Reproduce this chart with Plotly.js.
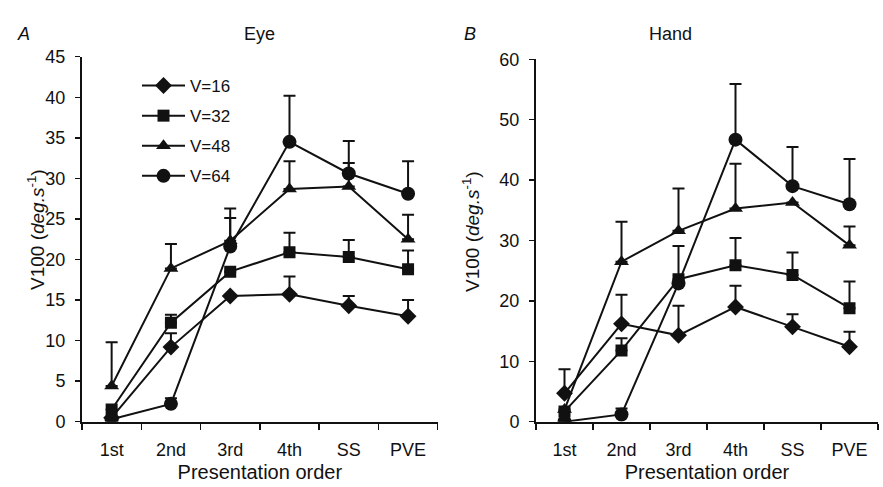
<!DOCTYPE html>
<html>
<head>
<meta charset="utf-8">
<script src="https://cdn.plot.ly/plotly-3.0.1.min.js"></script>
<style>html,body{margin:0;padding:0;background:#fff;}#chart{width:883px;height:487px;}</style>
</head>
<body>
<div id="chart"></div>
<script>
// Categories
const categories = ["1st", "2nd", "3rd", "4th", "SS", "PVE"];
const seriesNames = ["V=16", "V=32", "V=48", "V=64"];

// Panel A: Eye (mean V100, deg/s) and upper error (SE)
const eyeV16 = [0.5, 9.2, 15.5, 15.7, 14.3, 13.0];
const eyeV16Err = [0, 1.7, 0, 2.2, 1.2, 2.0];
const eyeV32 = [1.5, 12.2, 18.5, 20.9, 20.3, 18.8];
const eyeV32Err = [0, 1.0, 0, 2.4, 2.1, 2.3];
const eyeV48 = [4.4, 18.9, 22.3, 28.7, 29.0, 22.5];
const eyeV48Err = [5.4, 3.0, 4.0, 3.4, 2.9, 3.0];
const eyeV64 = [0.3, 2.2, 21.6, 34.5, 30.6, 28.1];
const eyeV64Err = [0, 0.7, 3.5, 5.7, 4.0, 4.0];

// Panel B: Hand
const handV16 = [4.7, 16.2, 14.3, 19.0, 15.7, 12.4];
const handV16Err = [4.0, 4.8, 4.9, 3.5, 2.1, 2.5];
const handV32 = [1.7, 11.8, 23.6, 25.9, 24.3, 18.8];
const handV32Err = [0, 2.0, 5.5, 4.5, 3.7, 4.4];
const handV48 = [2.0, 26.5, 31.6, 35.3, 36.3, 29.2];
const handV48Err = [0, 6.6, 7.0, 7.4, 0, 3.1];
const handV64 = [0, 1.2, 22.9, 46.7, 39.0, 36.0];
const handV64Err = [0, 1.0, 0, 9.2, 6.5, 7.5];

const symbols = ["diamond", "square", "triangle-up", "circle"];
const sizes = [13, 12, 13, 14];
const ink = "#111111";
const fontFam = "Liberation Sans, Arial, sans-serif";

function mk(y, err, i, xa, ya, showLeg) {
  return {
    x: categories, y: y, type: "scatter", mode: "lines+markers",
    name: seriesNames[i], legendgroup: "g" + i, showlegend: showLeg,
    xaxis: xa, yaxis: ya,
    line: {color: ink, width: 2},
    marker: {symbol: symbols[i], size: sizes[i], color: ink},
    error_y: {type: "data", symmetric: false, array: err, arrayminus: err.map(() => 0),
              color: ink, thickness: 2, width: 6}
  };
}

const eyeY = [eyeV16, eyeV32, eyeV48, eyeV64];
const eyeE = [eyeV16Err, eyeV32Err, eyeV48Err, eyeV64Err];
const handY = [handV16, handV32, handV48, handV64];
const handE = [handV16Err, handV32Err, handV48Err, handV64Err];

const data = [];
for (let i = 0; i < 4; i++) data.push(mk(eyeY[i], eyeE[i], i, "x", "y", true));
for (let i = 0; i < 4; i++) data.push(mk(handY[i], handE[i], i, "x2", "y2", false));

const H = 487, W = 883;
const xax = (d) => ({
  domain: d, type: "category", categoryorder: "array", categoryarray: categories,
  range: [-0.5, 5.5], tickson: "boundaries", ticks: "outside", ticklen: 6, tickwidth: 1.5,
  tickcolor: ink, showline: true, linecolor: ink, linewidth: 2, showgrid: false, zeroline: false,
  ticklabelstandoff: 11, tickfont: {family: fontFam, size: 18, color: ink},
  title: {text: "Presentation order", font: {family: fontFam, size: 20, color: ink}, standoff: 6},
  fixedrange: true
});
const yax = (d, max, dt, anchor) => ({
  domain: d, anchor: anchor, range: [0, max], dtick: dt, tick0: 0, ticks: "outside", ticklen: 5,
  tickwidth: 1.5, tickcolor: ink, showline: true, linecolor: ink, linewidth: 2,
  showgrid: false, zeroline: false, ticklabelstandoff: 6,
  tickfont: {family: fontFam, size: 18, color: ink}, fixedrange: true
});

const yb = 1 - 421.7 / H;
const layout = {
  width: W, height: H, margin: {l: 0, r: 0, t: 0, b: 0},
  paper_bgcolor: "#fff", plot_bgcolor: "#fff", showlegend: true,
  xaxis: Object.assign(xax([82 / W, 437.7 / W]), {anchor: "y"}),
  yaxis: yax([yb, 1 - 56.7 / H], 45, 5, "x"),
  xaxis2: Object.assign(xax([536 / W, 878 / W]), {anchor: "y2"}),
  yaxis2: yax([yb, 1 - 59.3 / H], 60, 10, "x2"),
  legend: {x: 137 / W, y: 1 - 68 / H, xanchor: "left", yanchor: "top", bgcolor: "rgba(0,0,0,0)",
           font: {family: fontFam, size: 17, color: ink}, itemwidth: 43,
           traceorder: "grouped", tracegroupgap: 5},
  annotations: [
    {text: "<i>A</i>", x: 15 / W, y: 1 - 22 / H, xref: "paper", yref: "paper", showarrow: false,
     font: {family: fontFam, size: 18, color: ink}},
    {text: "Eye", x: 242 / W, y: 1 - 22 / H, xref: "paper", yref: "paper", showarrow: false,
     font: {family: fontFam, size: 18, color: ink}},
    {text: "<i>B</i>", x: 470 / W, y: 1 - 22 / H, xref: "paper", yref: "paper", showarrow: false,
     font: {family: fontFam, size: 18, color: ink}},
    {text: "Hand", x: 694 / W, y: 1 - 22 / H, xref: "paper", yref: "paper", showarrow: false,
     font: {family: fontFam, size: 18, color: ink}},
    {text: "V100 (<i>deg.s</i><sup>-1</sup>)", textangle: -90, x: 22 / W, y: 1 - 230 / H,
     xref: "paper", yref: "paper", showarrow: false, font: {family: fontFam, size: 19, color: ink}},
    {text: "V100 (<i>deg.s</i><sup>-1</sup>)", textangle: -90, x: 471 / W, y: 1 - 232 / H,
     xref: "paper", yref: "paper", showarrow: false, font: {family: fontFam, size: 19, color: ink}}
  ]
};

Plotly.newPlot("chart", data, layout, {staticPlot: true, displayModeBar: false});
</script>
</body>
</html>
